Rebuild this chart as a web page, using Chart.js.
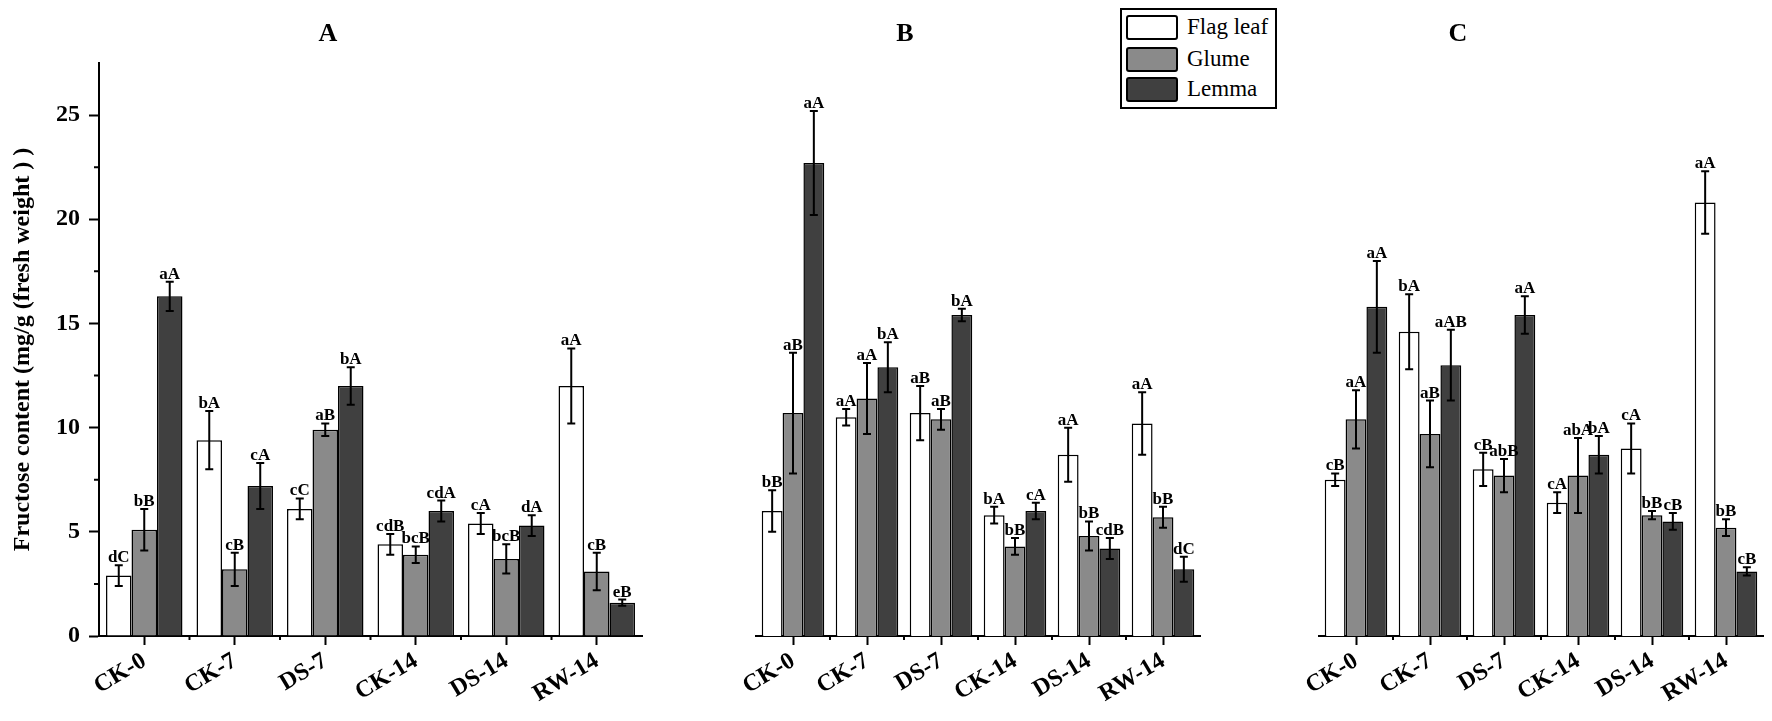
<!DOCTYPE html>
<html>
<head>
<meta charset="utf-8">
<script src="https://cdn.jsdelivr.net/npm/chart.js@4.4.1/dist/chart.umd.min.js"></script>
<style>
  body { margin: 0; background: #fff; }
  #wrap { position: relative; width: 1772px; height: 721px; overflow: hidden; font-family: "Liberation Serif", "Times New Roman", serif; }
  canvas { position: absolute; top: 0; }
  .ttl { position: absolute; font-weight: bold; font-size: 26px; transform: translate(-50%, -50%); color: #000; }
  #legend { position: absolute; left: 1120px; top: 8px; width: 157px; height: 101px; box-sizing: border-box; border: 2px solid #000; background: #fff; }
  #legend .sw { position: absolute; left: 4px; width: 52px; height: 25px; box-sizing: border-box; border: 2px solid #000; border-radius: 3px; }
  #legend .lb { position: absolute; left: 65px; font-size: 23px; line-height: 25px; color: #000; white-space: nowrap; }
</style>
</head>
<body>
<div id="wrap">
  <canvas id="chartA" width="650" height="721" style="left:0px"></canvas>
  <canvas id="chartB" width="562" height="721" style="left:650px"></canvas>
  <canvas id="chartC" width="560" height="721" style="left:1212px"></canvas>
  <div class="ttl" style="left:328px; top:33px">A</div>
  <div class="ttl" style="left:905px; top:33px">B</div>
  <div class="ttl" style="left:1458px; top:33px">C</div>
  <div id="legend">
    <div class="sw" style="top:5px; background:#ffffff"></div><div class="lb" style="top:4px">Flag leaf</div>
    <div class="sw" style="top:37px; background:#8a8a8a"></div><div class="lb" style="top:36px">Glume</div>
    <div class="sw" style="top:67px; background:#404040"></div><div class="lb" style="top:66px">Lemma</div>
  </div>
</div>
<script>
const categories = ['CK-0', 'CK-7', 'DS-7', 'CK-14', 'DS-14', 'RW-14'];
const seriesNames = ['Flag leaf', 'Glume', 'Lemma'];
const yTitle = 'Fructose content (mg/g (fresh weight ) )';
const yMax = 27.5;

// panel A
const flagA = [2.9, 9.4, 6.1, 4.4, 5.4, 12.0];
const glumeA = [5.1, 3.2, 9.9, 3.9, 3.7, 3.1];
const lemmaA = [16.3, 7.2, 12.0, 6.0, 5.3, 1.6];
const flagErrA = [0.5, 1.4, 0.5, 0.5, 0.5, 1.8];
const glumeErrA = [1.0, 0.8, 0.3, 0.4, 0.7, 0.9];
const lemmaErrA = [0.7, 1.1, 0.9, 0.5, 0.5, 0.15];
const flagSigA = ['dC', 'bA', 'cC', 'cdB', 'cA', 'aA'];
const glumeSigA = ['bB', 'cB', 'aB', 'bcB', 'bcB', 'cB'];
const lemmaSigA = ['aA', 'cA', 'bA', 'cdA', 'dA', 'eB'];

// panel B
const flagB = [6.0, 10.5, 10.7, 5.8, 8.7, 10.2];
const glumeB = [10.7, 11.4, 10.4, 4.3, 4.8, 5.7];
const lemmaB = [22.7, 12.9, 15.4, 6.0, 4.2, 3.2];
const flagErrB = [1.0, 0.4, 1.3, 0.4, 1.3, 1.5];
const glumeErrB = [2.9, 1.7, 0.5, 0.4, 0.7, 0.5];
const lemmaErrB = [2.5, 1.2, 0.3, 0.4, 0.5, 0.6];
const flagSigB = ['bB', 'aA', 'aB', 'bA', 'aA', 'aA'];
const glumeSigB = ['aB', 'aA', 'aB', 'bB', 'bB', 'bB'];
const lemmaSigB = ['aA', 'bA', 'bA', 'cA', 'cdB', 'dC'];

// panel C
const flagC = [7.5, 14.6, 8.0, 6.4, 9.0, 20.8];
const glumeC = [10.4, 9.7, 7.7, 7.7, 5.8, 5.2];
const lemmaC = [15.8, 13.0, 15.4, 8.7, 5.5, 3.1];
const flagErrC = [0.3, 1.8, 0.8, 0.5, 1.2, 1.5];
const glumeErrC = [1.4, 1.6, 0.8, 1.8, 0.2, 0.4];
const lemmaErrC = [2.2, 1.7, 0.9, 0.9, 0.4, 0.2];
const flagSigC = ['cB', 'bA', 'cB', 'cA', 'cA', 'aA'];
const glumeSigC = ['aA', 'aB', 'abB', 'abA', 'bB', 'bB'];
const lemmaSigC = ['aA', 'aAB', 'aA', 'bA', 'cB', 'cB'];

const colors = ['#ffffff', '#8a8a8a', '#404040'];
const serif = '"Liberation Serif", "Times New Roman", serif';

// error bars + significance letters, positioned with the chart's own scales
const errorBars = {
  id: 'errorBars',
  afterDatasetsDraw(chart) {
    const ctx = chart.ctx;
    const y = chart.scales.y;
    chart.data.datasets.forEach((ds, di) => {
      const meta = chart.getDatasetMeta(di);
      meta.data.forEach((bar, i) => {
        const v = ds.data[i], e = ds.errors[i];
        const top = y.getPixelForValue(v + e);
        const bot = y.getPixelForValue(v - e);
        ctx.save();
        ctx.strokeStyle = '#000';
        ctx.lineWidth = 2;
        ctx.beginPath();
        ctx.moveTo(bar.x, top); ctx.lineTo(bar.x, bot);
        ctx.moveTo(bar.x - 4, top); ctx.lineTo(bar.x + 4, top);
        ctx.moveTo(bar.x - 4, bot); ctx.lineTo(bar.x + 4, bot);
        ctx.stroke();
        ctx.fillStyle = '#000';
        ctx.font = 'bold 17px ' + serif;
        ctx.textAlign = 'center';
        ctx.textBaseline = 'alphabetic';
        ctx.fillText(ds.letters[i], bar.x, top - 3);
        ctx.restore();
      });
    });
  }
};

// short ticks between categories and minor ticks on the y axis
const minorTicks = {
  id: 'minorTicks',
  afterDraw(chart) {
    const ctx = chart.ctx;
    const x = chart.scales.x, y = chart.scales.y;
    const bottom = chart.chartArea.bottom;
    ctx.save();
    ctx.strokeStyle = '#000';
    ctx.lineWidth = 2;
    ctx.beginPath();
    for (let i = 1; i < categories.length; i++) {
      const px = (x.getPixelForValue(i - 1) + x.getPixelForValue(i)) / 2;
      ctx.moveTo(px, bottom); ctx.lineTo(px, bottom + 4);
    }
    if (chart.options.scales.y.display) {
      const left = chart.chartArea.left;
      for (let v = 2.5; v < yMax; v += 5) {
        const py = y.getPixelForValue(v);
        ctx.moveTo(left, py); ctx.lineTo(left - 5, py);
      }
    }
    ctx.stroke();
    ctx.restore();
  }
};

function makeDatasets(vals, errs, sigs) {
  return seriesNames.map((name, k) => ({
    label: name,
    data: vals[k],
    errors: errs[k],
    letters: sigs[k],
    backgroundColor: colors[k],
    borderColor: '#000',
    borderWidth: 1.5,
    borderSkipped: 'bottom',
    barPercentage: 1,
    categoryPercentage: 0.845
  }));
}

function makeChart(id, vals, errs, sigs, showY, padLeft, padRight) {
  const ctx = document.getElementById(id).getContext('2d');
  return new Chart(ctx, {
    type: 'bar',
    data: { labels: categories, datasets: makeDatasets(vals, errs, sigs) },
    options: {
      responsive: false,
      animation: false,
      events: [],
      layout: { padding: { top: 63, bottom: 0, left: padLeft, right: padRight } },
      plugins: { legend: { display: false }, tooltip: { enabled: false } },
      scales: {
        x: {
          offset: true,
          grid: { display: true, drawOnChartArea: false, drawTicks: true, tickLength: 9, tickWidth: 2, tickColor: '#000', offset: false },
          border: { display: true, color: '#000', width: 2 },
          ticks: { color: '#000', font: { family: serif, weight: 'bold', size: 24 }, minRotation: 31, maxRotation: 31, padding: 2, autoSkip: false },
          afterFit(scale) { scale.paddingLeft = 0; scale.paddingRight = 0; scale.height = 85; }
        },
        y: {
          display: showY,
          min: 0,
          max: yMax,
          ticks: { stepSize: 5, includeBounds: false, color: '#000', font: { family: serif, weight: 'bold', size: 24 }, padding: 9 },
          grid: { drawOnChartArea: false, drawTicks: true, tickLength: 10, tickWidth: 2, tickColor: '#000' },
          border: { display: true, color: '#000', width: 2 },
          title: { display: true, text: yTitle, color: '#000', font: { family: serif, weight: 'bold', size: 24 }, padding: { top: 8, bottom: 0 } },
          afterFit(scale) { scale.width = 99; scale.paddingTop = 0; scale.paddingBottom = 0; }
        }
      }
    },
    plugins: [errorBars, minorTicks]
  });
}

makeChart('chartA',
  [flagA, glumeA, lemmaA], [flagErrA, glumeErrA, lemmaErrA], [flagSigA, glumeSigA, lemmaSigA],
  true, 0, 8);
makeChart('chartB',
  [flagB, glumeB, lemmaB], [flagErrB, glumeErrB, lemmaErrB], [flagSigB, glumeSigB, lemmaSigB],
  false, 7, 12);
makeChart('chartC',
  [flagC, glumeC, lemmaC], [flagErrC, glumeErrC, lemmaErrC], [flagSigC, glumeSigC, lemmaSigC],
  false, 8, 9);
</script>
</body>
</html>
